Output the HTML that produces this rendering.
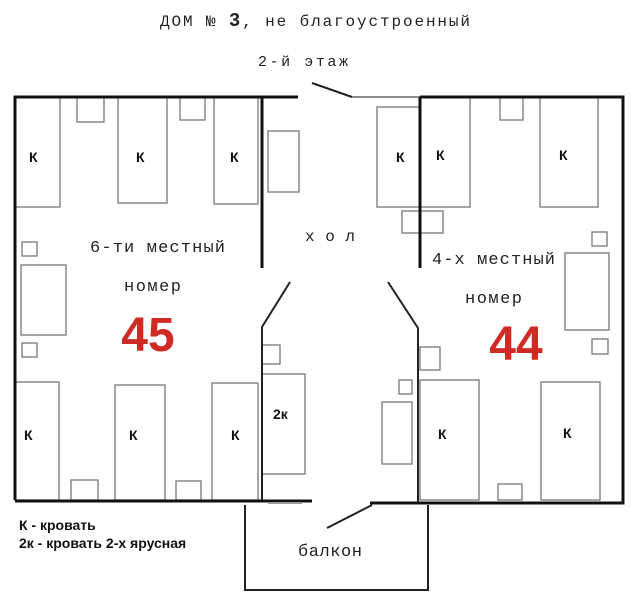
<!DOCTYPE html>
<html><head><meta charset="utf-8"><style>
body{margin:0;background:#fff}
svg{display:block}
.m{font-family:"Liberation Mono",monospace;fill:#222}
.k{font-family:"Liberation Sans",sans-serif;font-weight:bold;font-size:14px;fill:#111}
.f{fill:none;stroke:#777;stroke-width:1.3}
.w{stroke:#111;stroke-width:3;fill:none}
.t{stroke:#222;stroke-width:2;fill:none}
.r{font-family:"Liberation Sans",sans-serif;font-weight:bold;font-size:48px;fill:#d02a24}
</style></head><body>
<svg width="633" height="600" viewBox="0 0 633 600" xmlns="http://www.w3.org/2000/svg">
<text class="m" x="160" y="26" font-size="16" textLength="310" lengthAdjust="spacing">ДОМ № <tspan font-weight="bold" font-size="19">3</tspan>, не благоустроенный</text>
<text class="m" x="258" y="66" font-size="15" textLength="90" lengthAdjust="spacing">2-й этаж</text>
<rect class="f" x="15" y="97" width="45" height="110"/>
<rect class="f" x="118" y="97" width="49" height="106"/>
<rect class="f" x="214" y="97" width="44" height="107"/>
<rect class="f" x="77" y="97" width="27" height="25"/>
<rect class="f" x="180" y="97" width="25" height="23"/>
<rect class="f" x="22" y="242" width="15" height="14"/>
<rect class="f" x="21" y="265" width="45" height="70"/>
<rect class="f" x="22" y="343" width="15" height="14"/>
<rect class="f" x="15" y="382" width="44" height="118"/>
<rect class="f" x="115" y="385" width="50" height="115"/>
<rect class="f" x="212" y="383" width="46" height="117"/>
<rect class="f" x="71" y="480" width="27" height="20"/>
<rect class="f" x="176" y="481" width="25" height="19"/>
<rect class="f" x="268" y="131" width="31" height="61"/>
<rect class="f" x="262" y="345" width="18" height="19"/>
<rect class="f" x="262" y="374" width="43" height="100"/>
<rect class="f" x="399" y="380" width="13" height="14"/>
<rect class="f" x="382" y="402" width="30" height="62"/>
<rect class="f" x="377" y="107" width="43" height="100"/>
<rect class="f" x="420" y="97" width="50" height="110"/>
<rect class="f" x="402" y="211" width="41" height="22"/>
<rect class="f" x="500" y="97" width="23" height="23"/>
<rect class="f" x="540" y="97" width="58" height="110"/>
<rect class="f" x="592" y="232" width="15" height="14"/>
<rect class="f" x="565" y="253" width="44" height="77"/>
<rect class="f" x="592" y="339" width="16" height="15"/>
<rect class="f" x="420" y="347" width="20" height="23"/>
<rect class="f" x="420" y="380" width="59" height="120"/>
<rect class="f" x="541" y="382" width="59" height="118"/>
<rect class="f" x="498" y="484" width="24" height="16"/>
<polyline class="w" points="15,500 15,97 298,97"/>
<line class="t" x1="312" y1="83" x2="352" y2="97"/>
<line x1="352" y1="97" x2="420" y2="97" stroke="#666" stroke-width="1.5"/>
<polyline class="w" points="420,97 623,97 623,503 418,503"/>
<line class="w" x1="262" y1="97" x2="262" y2="268"/>
<line class="w" x1="420" y1="97" x2="420" y2="268"/>
<polyline class="t" points="290,282 262,327 262,502"/>
<polyline class="t" points="388,282 418,328 418,503"/>
<line class="w" x1="15" y1="501" x2="312" y2="501"/>
<line x1="268" y1="503" x2="302" y2="503" stroke="#999" stroke-width="2"/>
<line class="w" x1="370" y1="503" x2="418" y2="503"/>
<polyline class="t" points="245,505 245,590 428,590 428,505"/>
<line class="t" x1="327" y1="528" x2="372" y2="505"/>
<text class="m" x="90" y="252" font-size="17" textLength="135" lengthAdjust="spacing">6-ти местный</text>
<text class="m" x="124" y="291" font-size="17" textLength="57" lengthAdjust="spacing">номер</text>
<text class="r" x="148" y="351" text-anchor="middle">45</text>
<text class="m" x="305" y="241" font-size="16" textLength="50" lengthAdjust="spacing">х о л</text>
<text class="m" x="432" y="264" font-size="17" textLength="123" lengthAdjust="spacing">4-х местный</text>
<text class="m" x="465" y="303" font-size="17" textLength="57" lengthAdjust="spacing">номер</text>
<text class="r" x="516" y="360" text-anchor="middle">44</text>
<text class="m" x="298" y="556" font-size="17" textLength="64" lengthAdjust="spacing">балкон</text>
<g class="k">
<text x="29" y="162">К</text><text x="136" y="162">К</text><text x="230" y="162">К</text>
<text x="396" y="162">К</text><text x="436" y="160">К</text><text x="559" y="160">К</text>
<text x="24" y="440">К</text><text x="129" y="440">К</text><text x="231" y="440">К</text>
<text x="438" y="439">К</text><text x="563" y="438">К</text>
<text x="273" y="419">2к</text>
</g>
<text class="k" x="19" y="530" font-size="13">К - кровать</text>
<text class="k" x="19" y="548" font-size="13">2к - кровать 2-х ярусная</text>
</svg>
</body></html>
